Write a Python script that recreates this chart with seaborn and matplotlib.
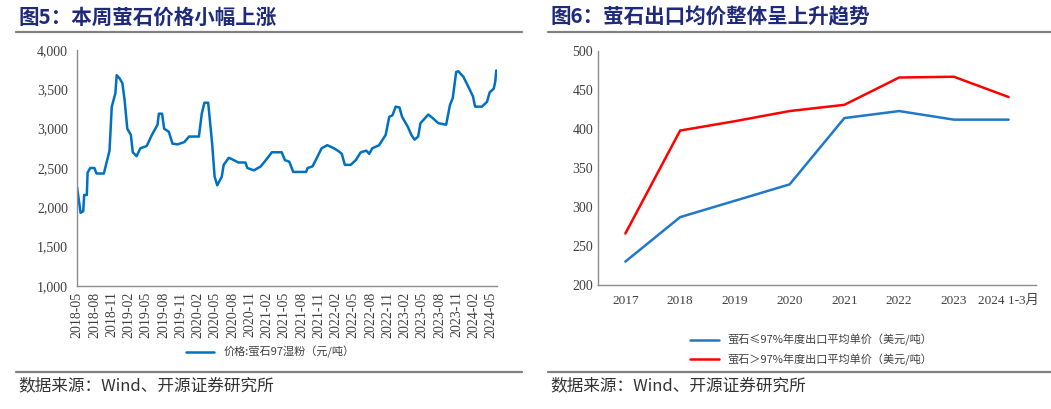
import numpy as np
import pandas as pd
import seaborn as sns
import matplotlib.pyplot as plt
import matplotlib.dates as mdates
from matplotlib.lines import Line2D
from matplotlib.ticker import FuncFormatter, MultipleLocator

sns.set_style("white")
plt.rcParams['font.family'] = ['Liberation Serif', 'Noto Sans CJK SC']
plt.rcParams['axes.unicode_minus'] = False

# 图5: 萤石97湿粉价格 (元/吨), 读图估计的拐点
price_dates = [
    "2018-05-01", "2018-05-20", "2018-06-03", "2018-06-08", "2018-06-22", "2018-06-26",
    "2018-07-10", "2018-08-01", "2018-08-12", "2018-09-20", "2018-10-20", "2018-11-01",
    "2018-11-20", "2018-11-27", "2018-12-12", "2018-12-27", "2019-01-08", "2019-01-22",
    "2019-02-10", "2019-02-20", "2019-03-12", "2019-04-01", "2019-05-05", "2019-06-01",
    "2019-07-01", "2019-07-08", "2019-07-25", "2019-08-05", "2019-08-30", "2019-09-18",
    "2019-10-15", "2019-11-20", "2019-12-15", "2020-02-05", "2020-02-20", "2020-03-05",
    "2020-03-25", "2020-04-15", "2020-04-28", "2020-05-12", "2020-06-05", "2020-06-15",
    "2020-07-12", "2020-08-08", "2020-09-01", "2020-10-08", "2020-10-18", "2020-11-22",
    "2020-12-28", "2021-01-24", "2021-02-25", "2021-04-18", "2021-05-05", "2021-05-28",
    "2021-06-18", "2021-08-25", "2021-09-02", "2021-09-28", "2021-10-15", "2021-11-15",
    "2021-12-15", "2022-01-20", "2022-02-15", "2022-03-02", "2022-03-18", "2022-04-18",
    "2022-05-15", "2022-06-10", "2022-07-10", "2022-07-25", "2022-08-10", "2022-09-15",
    "2022-10-20", "2022-11-08", "2022-11-25", "2022-12-12", "2023-01-01", "2023-01-15",
    "2023-02-15", "2023-03-05", "2023-03-22", "2023-04-10", "2023-04-22", "2023-05-15",
    "2023-06-02", "2023-06-28", "2023-07-25", "2023-09-05", "2023-09-25", "2023-10-10",
    "2023-10-28", "2023-11-08", "2023-12-05", "2024-01-01", "2024-01-25", "2024-02-05",
    "2024-03-12", "2024-04-08", "2024-04-22", "2024-05-14", "2024-05-22", "2024-05-27",
]
price_values = [
    2260, 1930, 1950, 2157, 2157, 2440,
    2500, 2500, 2430, 2430, 2720, 3280,
    3450, 3680, 3640, 3580, 3360, 3000,
    2920, 2700, 2650, 2750, 2780, 2920,
    3050, 3190, 3190, 3000, 2960, 2810,
    2800, 2830, 2900, 2900, 3190, 3330,
    3330, 2810, 2390, 2280, 2390, 2540,
    2630, 2600, 2570, 2570, 2500, 2470,
    2520, 2600, 2700, 2700, 2600, 2580,
    2450, 2450, 2500, 2520, 2600, 2750,
    2790, 2750, 2710, 2680, 2540, 2540,
    2600, 2700, 2720, 2680, 2750, 2790,
    2920, 3150, 3170, 3280, 3270, 3150,
    3020, 2920, 2860, 2900, 3070, 3130,
    3180, 3130, 3070, 3050, 3300, 3390,
    3720, 3730, 3660, 3530, 3410, 3280,
    3280, 3340, 3460, 3510, 3600, 3740,
]

# 图6: 萤石年度出口平均单价 (美元/吨)
years = ["2017", "2018", "2019", "2020", "2021", "2022", "2023", "2024 1-3月"]
low_grade = [230, 287, 308, 329, 414, 423, 412, 412]
high_grade = [266, 398, 410, 423, 431, 466, 467, 441]

label_price = "价格:萤石97湿粉（元/吨）"
label_low = "萤石≤97%年度出口平均单价（美元/吨）"
label_high = "萤石＞97%年度出口平均单价（美元/吨）"

title_color = "#1F2A7A"
text_color = "#404040"
spine_color = "#8C8C8C"
cjk = ['Noto Sans CJK SC', 'DejaVu Sans']

fig = plt.figure(figsize=(10.51, 4.09), dpi=100)
W, H = 1051, 409

def box(x0, y_top, x1, y_bot):
    return [x0 / W, 1 - y_bot / H, (x1 - x0) / W, (y_bot - y_top) / H]

# ---- 左图 ----
ax1 = fig.add_axes(box(77, 50, 497, 286))
df_price = pd.DataFrame({"date": pd.to_datetime(price_dates), "price": price_values})
sns.lineplot(data=df_price, x="date", y="price", ax=ax1, color="#0070C0", linewidth=1.8)
ax1.set_xlim(pd.Timestamp("2018-05-01"), pd.Timestamp("2024-05-31"))
ax1.set_ylim(1000, 4000)
ax1.yaxis.set_major_locator(MultipleLocator(500))
ax1.yaxis.set_major_formatter(FuncFormatter(lambda v, p: f"{int(v):,}"))
ax1.xaxis.set_major_locator(mdates.MonthLocator(bymonth=[2, 5, 8, 11]))
ax1.xaxis.set_major_formatter(mdates.DateFormatter("%Y-%m"))
ax1.tick_params(axis="x", rotation=90, labelsize=10, colors=text_color, direction="in", length=3, pad=4)
ax1.tick_params(axis="y", labelsize=10, colors=text_color, direction="out", length=3)
ax1.set_xlabel("")
ax1.set_ylabel("")
ax1.legend([Line2D([], [], color="#0070C0", linewidth=1.8)], [label_price],
           loc="center", bbox_to_anchor=(270 / W, 1 - 352 / H), bbox_transform=fig.transFigure,
           frameon=False, handlelength=2.6, prop={"family": cjk, "size": 8}, labelcolor=text_color)

# ---- 右图 ----
ax2 = fig.add_axes(box(598, 51, 1036, 285))
pos = np.arange(len(years))
df_exp = pd.DataFrame({"pos": pos, "low": low_grade, "high": high_grade})
sns.lineplot(data=df_exp, x="pos", y="low", ax=ax2, color="#1F78C8", linewidth=1.8)
sns.lineplot(data=df_exp, x="pos", y="high", ax=ax2, color="#FF0000", linewidth=1.8)
ax2.set_xlim(-0.5, len(years) - 0.5)
ax2.set_ylim(200, 500)
ax2.yaxis.set_major_locator(MultipleLocator(50))
ax2.set_xticks(pos)
ax2.set_xticklabels(years)
ax2.set_xticks(np.arange(len(years) + 1) - 0.5, minor=True)
ax2.tick_params(axis="x", which="major", length=0, labelsize=9.5, colors=text_color, pad=7)
ax2.tick_params(axis="x", which="minor", length=4, direction="in", color=spine_color)
ax2.tick_params(axis="y", labelsize=10, colors=text_color, direction="in", length=3)
ax2.set_xlabel("")
ax2.set_ylabel("")
fig.legend(ax2.get_lines()[:2], [label_low, label_high],
           loc="upper left", bbox_to_anchor=(680 / W, 1 - 324 / H),
           frameon=False, handlelength=2.6, labelspacing=0.7,
           prop={"family": cjk, "size": 8}, labelcolor=text_color)

for ax in (ax1, ax2):
    sns.despine(ax=ax)
    for s in ("left", "bottom"):
        ax.spines[s].set_color(spine_color)
        ax.spines[s].set_linewidth(1)
    ax.tick_params(color=spine_color)
    ax.grid(False)

# 标题、分隔线、来源
fig.text(18 / W, 1 - 17 / H, "图5：本周萤石价格小幅上涨", family=cjk, weight="bold",
         size=14.8, color=title_color, va="center", ha="left")
fig.text(550 / W, 1 - 17 / H, "图6：萤石出口均价整体呈上升趋势", family=cjk, weight="bold",
         size=14.8, color=title_color, va="center", ha="left")
for x0, x1 in ((16, 522), (548, 1051)):
    fig.add_artist(Line2D([x0 / W, x1 / W], [1 - 32 / H] * 2, color="#808080", linewidth=1.6))
    fig.add_artist(Line2D([x0 / W, x1 / W], [1 - 372 / H] * 2, color="#808080", linewidth=1.6))
fig.text(18 / W, 1 - 386 / H, "数据来源：Wind、开源证券研究所", family=cjk, size=12,
         color="#333333", va="center", ha="left")
fig.text(550 / W, 1 - 386 / H, "数据来源：Wind、开源证券研究所", family=cjk, size=12,
         color="#333333", va="center", ha="left")

fig.savefig("out.png", dpi=100)
